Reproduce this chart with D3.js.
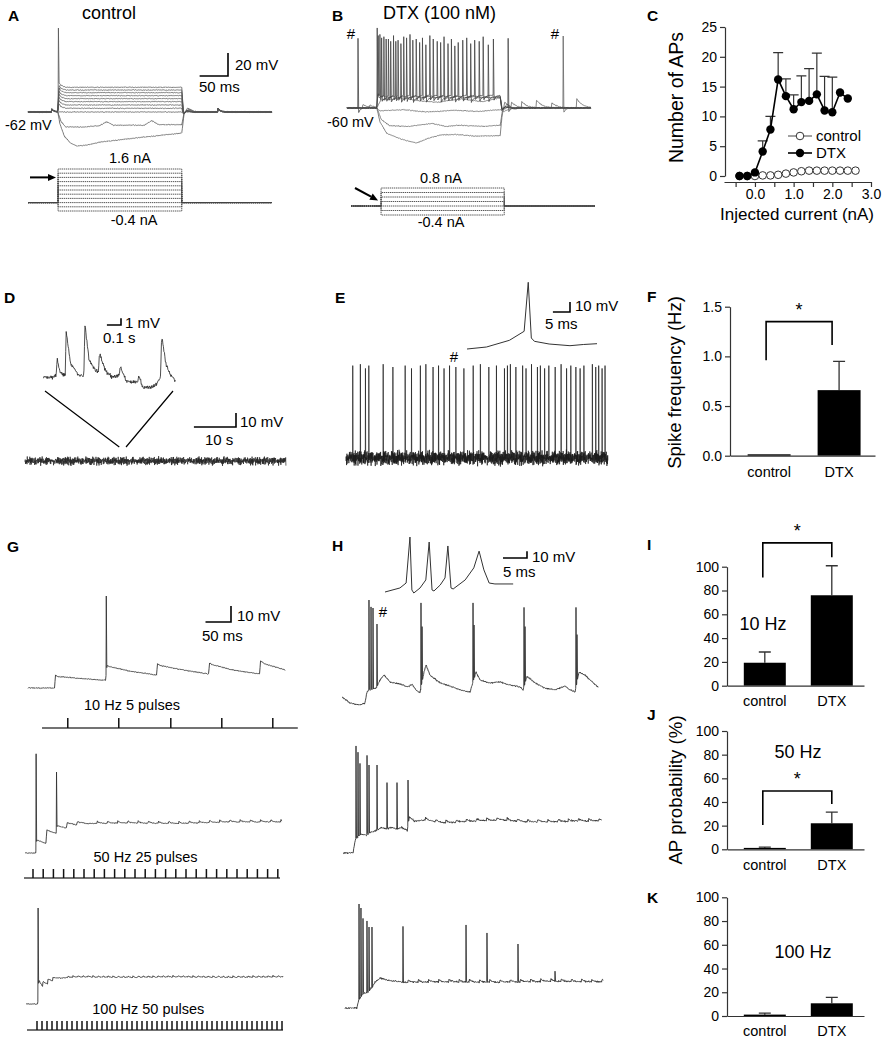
<!DOCTYPE html>
<html>
<head>
<meta charset="utf-8">
<title>DTX excitability figure</title>
<script src="https://cdn.jsdelivr.net/npm/d3@7/dist/d3.min.js"></script>
<style>
  body { margin: 0; background: #fff; }
  svg { display: block; font-family: "Liberation Sans", Arial, Helvetica, sans-serif; }
</style>
</head>
<body>
<svg id="fig" width="892" height="1042"></svg>
<script>
// ---------- data (ms / mV / nA) ----------

// fixed jitter table used as trace texture
const NOISE = [0.31,-0.72,0.55,-0.12,0.88,-0.47,0.05,-0.93,0.64,-0.28,0.41,-0.66,0.97,-0.05,-0.38,0.73,-0.84,0.22,0.59,-0.51,
               0.12,-0.19,0.81,-0.77,0.36,-0.99,0.48,0.02,-0.58,0.69,-0.33,0.91,-0.14,-0.62,0.27,0.76,-0.88,0.17,-0.42,0.53];

// A: control, current steps
const aCurrents = [-0.4, -0.2, 0, 0.2, 0.4, 0.6, 0.8, 1.0, 1.2, 1.4, 1.6];
const aSteady = [-80.3, -73, -62, -58.8, -55.9, -53, -50.4, -47.8, -45.2, -42.9, -40.5];
const aStep = [53, 271];
const aHyper04 = [[0,-62],[52.5,-62],[56,-72],[64,-83],[75,-89],[86,-91.6],[100,-91],[130,-88],[160,-86.3],[200,-84],[240,-82],[271,-80.3],[275,-64],[281,-58.5],[291,-61],[301,-62],[430,-62]];
const aHyper02 = [[0,-62],[52.5,-62],[58,-70],[66,-75],[100,-75],[125,-74],[139,-70.5],[150,-73.5],[205,-73.5],[218,-69.5],[230,-73],[271,-73],[275,-63],[283,-59.5],[293,-62],[430,-62]];
const aOnsetSpike = [53.6, 11];
const aBumps = [[42, 2.5], [335, 3]];

// B: DTX, current steps
const bCurrents = [-0.4, -0.2, 0, 0.2, 0.4, 0.6, 0.8];
const bStep = [53, 270];
const bHyper04 = [[0,-60],[52.5,-60],[58,-72],[70,-82],[95,-87],[123,-90.5],[145,-86],[165,-83.5],[190,-83],[230,-84.5],[270,-84],[273,-68],[278,-55],[285,-58],[295,-61],[305,-60],[430,-60]];
const bHyper02 = [[0,-60],[52.5,-60],[60,-70],[75,-75.5],[110,-76],[140,-74],[150,-73.5],[175,-76],[200,-75],[240,-76],[270,-75],[274,-62],[282,-56.5],[292,-60],[430,-60]];
const bZero = [[0,-60],[52.5,-60],[58,-62.5],[100,-61.5],[140,-63.5],[190,-62],[230,-63],[270,-61.5],[276,-63],[290,-60],[430,-60]];
const bPos02 = [[0,-60],[52.5,-60],[60,-53],[100,-51.5],[130,-54],[160,-55],[200,-52],[240,-54.5],[270,-51],[274,-62],[285,-59],[300,-60],[430,-60]];
const bSpikeLevel = [-51, -50, -49];            // 0.4, 0.6, 0.8 nA
const bSpikes04 = [[19.4,0.6],[61,1],[77,-2],[95,-4],[116,-1],[139,-5],[165,-3],[190,-6],[218,-4]];
const bSpikes06 = [[55,3],[69,0],[86,-2],[105,1],[128,-3],[152,0],[178,-4],[204,-1],[233,-2],[249,-5]];
const bSpikes08 = [[53.2,9.6],[58,4],[65,2],[73,0],[82,3],[90,-1],[100,2],[111,4],[122,0],[133,1],[146,3],[159,-2],[171,2],[184,0],[196,-3],[211,1],[225,-1],[240,2],[258,0],[284,0.6]];
const bSpikes00 = [[381, 2.6]];
const bBumps00 = [[334, 7], [405, 8]];
const bBumps02 = [[28, 3], [290, 4.3], [361, 4.5]];
const bBumpsM02 = [[40, 2.5], [308, 5.5]];

// C: number of APs vs injected current
const cCurrentDtx = [-0.4,-0.2,0,0.2,0.4,0.6,0.8,1.0,1.2,1.4,1.6,1.8,2.0,2.2,2.4];
const cDtxMean    = [0,0,0.6,4.1,7.8,16.2,13.4,11.2,12.4,12.6,13.7,11.0,10.7,14.0,13.0];
const cDtxSem     = [0,0,0,1.8,2.2,4.5,2.9,2.4,4.4,5.4,6.9,5.7,5.9,0,0];
const cCurrentCtl = [-0.4,-0.2,0,0.2,0.4,0.6,0.8,1.0,1.2,1.4,1.6,1.8,2.0,2.2,2.4,2.6];
const cCtlMean    = [0,0,0,0.1,0.1,0.2,0.4,0.6,0.8,0.9,0.9,0.9,0.9,0.9,0.9,0.9];
const cXTicks = [-0.5,0,0.5,1,1.5,2,2.5,3];
const cYTicks = [0,5,10,15,20,25];

// D: control spontaneous activity (s / mV)
const dMain = [[0,0],[62,0]];
const dInset = [[0,0.2],[0.044,0],[0.089,0.3],[0.097,2.9],[0.117,0.9],[0.147,0.4],[0.154,0.6],[0.161,6.9],[0.191,2.2],[0.25,0.45],[0.286,0.3],
                [0.294,7.9],[0.323,2.7],[0.367,1.2],[0.39,1.0],[0.397,3.7],[0.44,1.0],[0.485,0.2],[0.537,0.4],[0.544,1.7],[0.587,-0.5],
                [0.668,-0.6],[0.676,0.3],[0.705,-1.5],[0.79,-1.2],[0.83,0],[0.838,6.4],[0.867,2.2],[0.896,0.7],[0.94,-0.6]];

// E: DTX spontaneous firing (s / mV)
const eSpikeT = [1.6,3.4,4.6,5.4,8.8,11.1,14.0,15.5,17.6,18.9,20.6,21.9,23.2,24.5,26.0,27.9,30.1,31.8,33.8,35.6,37.5,38.2,38.9,40.2,41.8,42.6,
                 43.9,45.3,46.0,47.0,48.0,49.5,50.9,52.2,53.2,54.4,55.4,56.3,58.3,59.1,59.8,60.6,61.3];
const eSpikePk = [66,67,64,66,67,65,66,64,66,67,65,66,64,66,65,64,66,67,65,66,64,66,67,65,66,64,67,65,66,64,66,65,67,64,66,65,64,66,67,65,66,64,66];
const eInset = [[0,0],[5.7,2],[12.4,8.7],[16.7,17.7],[17.9,66.7],[18.8,11],[19.7,7.7],[24,5],[30.1,3.3],[34,4.5],[38,5.3]];

// F: spontaneous spike frequency (Hz)
const barCats = ['control', 'DTX'];
const fMean = [0, 0.66];
const fSem  = [0, 0.29];
// I, J, K: AP probability (%) at 10, 50, 100 Hz
const iMean = [19.3, 76], iSem = [9, 24.8];
const jMean = [1, 22],    jSem = [0.8, 9.5];
const kMean = [1, 10.7],  kSem = [1.5, 5];

// G: control synaptic trains (ms / mV relative to rest)
const g1Pts = [[0,0],[52.5,0],[53.5,8.2],[58,7.2],[100,6],[152,4.8],[155,14],[160,13.4],[200,10.5],[252.5,8.1],[253.5,15.2],[260,14],[300,11.5],
               [354.5,8.7],[355.5,15.8],[362,14.5],[405,11],[454.5,8.8],[455.5,17],[465,15],[504,11.3]];
const g1Spikes = [[153.5, 57.5]];
const g1Stim = [78, 178, 280, 380, 480];
const g2Pts = [[0,0],[21,0],[23,8.1],[41,6],[41.6,6],[42.3,14.4],[61,12.3],[63,17],[81,15.6],[81.6,15.6],[82.3,19],[101,17.5],[101.6,17.5],
               [102.3,19.5],[121,18.4],[200,18.8],[300,18.4],[400,19.4],[504,19.4]];
const g2Spikes = [[21.8, 62], [61.8, 50.6]];
const g3Pts = [[0,0],[23.5,0],[25.5,15],[33,11],[34,14],[43,12.5],[44,15.5],[53,14.5],[54,16.5],[70,16.2],[100,16.9],[200,16.6],[300,16.9],[400,16.6],[514,16.9]];
const g3Spikes = [[24.2, 60]];

// H: DTX synaptic trains
const h1Pts = [[0,0],[15.7,-3.8],[35.3,-5],[45.1,-3.8],[49,3.1],[52,4],[60,5],[68,6],[74.5,10.6],[82.4,13.75],[94.1,9.4],[113.7,8.1],[129.4,6.25],
               [137.3,8.1],[145.1,4.4],[152.9,2.5],[160.8,15.6],[164.7,20],[172.5,13.75],[192.2,8.75],[211.8,6.9],[231.4,4.4],[251,3.1],
               [262.7,15.6],[270.6,10.6],[290.2,8.75],[309.8,9.4],[329.4,7.5],[349,6.25],[354.9,4.4],[362.7,13],[378.4,8.75],[398,5.6],
               [417.6,4.4],[437.3,6.9],[447.1,4.4],[456.9,3.1],[464.7,15.6],[476.5,13.75],[486.3,10.6],[502,6.25]];
const h1Spikes = [[52.9,60.6],[56.9,56.3],[60.8,55.6],[68.6,45.6],[154.9,58.8],[157,44],[256.9,58.8],[258.9,45],[356.9,56],[358.9,44],[458.8,56],[460.8,39]];
const h2Pts = [[0,0],[19.6,0],[24,8],[28,10],[36,12],[45,11],[55,13],[65,14],[75,16],[85,15],[95,16],[105,15],[115,16],[126,14],[130,22.5],
               [140,20],[160,20.6],[200,18.75],[260,20],[311,20.6],[360,19.4],[410,19.4],[460,20],[507,20]];
const h2Spikes = [[25.5,66.9],[29.4,63],[33.3,56],[47.1,61],[51,55],[66.7,55],[86.3,44],[105.9,44],[127.5,45.6]];
const h3Pts = [[0,0],[23.5,0],[27,5],[35,9],[45,10],[53,13],[59,16],[69,18.75],[89,17],[120,16],[200,16.3],[300,16],[400,16.6],[506,16.25]];
const h3Spikes = [[27.5,65],[31.3,62.5],[35.3,56],[43.1,54.4],[47.1,50.6],[52.9,50.6],[113.7,51],[237.3,51.9],[278.4,46.9],[339.2,40],[411.8,23]];
const hInset = [[0,0],[3.1,6],[4.4,13.4],[5.2,82],[5.6,3],[6.0,-1.5],[7.3,6],[8.5,18],[9.2,74.6],[9.8,3],[10.2,1.5],[11.5,10.4],[12.5,21],
                [13.1,68.7],[13.75,6],[14.2,4.5],[16.7,18],[18.5,36],[19.6,61],[20.6,33],[21.7,13.4],[22.9,12],[26.7,12]];

// ---------- helpers ----------
const svg = d3.select('#fig');
const FONT = '"Liberation Sans", Arial, sans-serif';
const line = d3.line();

function txt(x, y, s, size, o = {}) {
  return svg.append('text').attr('x', x).attr('y', y).attr('font-size', size)
    .attr('text-anchor', o.anchor || 'start').attr('font-weight', o.bold ? 'bold' : null)
    .attr('fill', '#000').text(s);
}
function vtxt(x, y, s, size) {
  svg.append('text').attr('transform', `translate(${x},${y}) rotate(-90)`)
    .attr('text-anchor', 'middle').attr('font-size', size).attr('fill', '#000').text(s);
}

// sample a trace: slow keypoints + synaptic bumps + spikes + texture
function buildTrace(s) {
  const slow = d3.scaleLinear().domain(s.pts.map(p => p[0])).range(s.pts.map(p => p[1])).clamp(true);
  const spikes = (s.spikes || []).slice().sort((a, b) => a[0] - b[0]);
  const bumps = s.bumps || [];
  const rise = s.rise ?? 0.5, fall = s.fall ?? 1, ahp = s.ahp || 0, ahpTau = s.ahpTau || 3;
  const seed = s.seed || 0, amp = s.noise || 0;
  const jitter = i => amp * (0.65 * NOISE[(i + seed) % NOISE.length] + 0.35 * NOISE[(i * 7 + seed * 3) % 37]);
  const val = (t, i) => {
    let v = slow(t) + jitter(i);
    for (const [bt, ba] of bumps) if (t >= bt) v += ba * Math.exp(-(t - bt) / s.tau);
    if (ahp) for (const [st] of spikes) if (t >= st + fall) v -= ahp * Math.exp(-(t - st - fall) / ahpTau);
    return v;
  };
  const out = [];
  let t = s.t0, i = 0, k = 0;
  while (t <= s.t1 + 1e-9) {
    if (k < spikes.length && t >= spikes[k][0] - rise) {
      const [st, pk] = spikes[k++];
      out.push([st - rise, val(st - rise, i)]);
      out.push([st, pk]);
      out.push([st + fall, val(st + fall, i + 1)]);
      while (t <= st + fall) { t += s.dt; i++; }
      continue;
    }
    out.push([t, val(t, i)]);
    t += s.dt; i++;
  }
  return out;
}

function drawTrace(pts, xs, ys, color, width, dash) {
  svg.append('path').attr('d', line(pts.map(p => [xs(p[0]), ys(p[1])])))
    .attr('fill', 'none').attr('stroke', color).attr('stroke-width', width)
    .attr('stroke-linejoin', 'round').attr('stroke-dasharray', dash || null);
}

function scaleBar(cx, cy, xs, tLen, ys, vLen) {
  const w = Math.abs(xs(tLen) - xs(0)), h = Math.abs(ys(vLen) - ys(0));
  svg.append('path').attr('d', `M${cx - w},${cy}H${cx}V${cy - h}`)
    .attr('fill', 'none').attr('stroke', '#000').attr('stroke-width', 1.6);
}

function arrow(x1, y1, x2, y2) {
  const a = Math.atan2(y2 - y1, x2 - x1), L = 8, W = 3.5;
  const bx = x2 - L * Math.cos(a), by = y2 - L * Math.sin(a);
  svg.append('line').attr('x1', x1).attr('y1', y1).attr('x2', bx).attr('y2', by)
    .attr('stroke', '#000').attr('stroke-width', 2);
  svg.append('path').attr('fill', '#000')
    .attr('d', `M${x2},${y2}L${bx - W * Math.sin(a)},${by + W * Math.cos(a)}L${bx + W * Math.sin(a)},${by - W * Math.cos(a)}Z`);
}

function styleAxis(g, size) {
  g.attr('font-family', FONT);
  g.selectAll('path,line').attr('stroke', '#333').attr('stroke-width', 1.2);
  g.selectAll('text').attr('font-size', size).attr('fill', '#000');
}

function stepPts(base, s, on, off) {
  return [[0,base],[on-0.5,base],[on+1.5,s+4],[on+5,s+1.5],[on+14,s],[off,s],[off+3,base-1.5],[off+9,base+1],[off+22,base],[430,base]];
}

// ---------- panel letters ----------
[['A',8,20.5],['B',332,20.5],['C',647,20.5],['D',4,303],['E',335,303],['F',647,302],
 ['G',7,551.5],['H',332,551],['I',647,550],['J',647,720],['K',647,903]]
  .forEach(([l, x, y]) => txt(x, y, l, 15.5, { bold: true }));

// ---------- A ----------
const xA = d3.scaleLinear().domain([0, 430]).range([28, 272]);
const yA = d3.scaleLinear().domain([-62, -42]).range([112, 89]);
const yAi = d3.scaleLinear().domain([-0.4, 1.6]).range([211, 169]);
aCurrents.forEach((I, j) => {
  let pts;
  if (I === -0.4) pts = aHyper04;
  else if (I === -0.2) pts = aHyper02;
  else if (I === 0) pts = [[0,-62],[430,-62]];
  else pts = stepPts(-62, aSteady[j], aStep[0], aStep[1]);
  const tr = buildTrace({ t0: 0, t1: 430, dt: 1, pts, spikes: I === 1.6 ? [aOnsetSpike] : [],
    bumps: aBumps, tau: 4, noise: 0.45, seed: j * 5, rise: 0.5, fall: 1.2 });
  drawTrace(tr, xA, yA, '#555', 0.8);
});
aCurrents.forEach(I => drawTrace([[0,0],[aStep[0],0],[aStep[0],I],[aStep[1],I],[aStep[1],0],[430,0]], xA, yAi, '#444', 0.9, '1.4 0.7'));
txt(82, 19, 'control', 18);
scaleBar(228, 76, xA, 50, yA, 20);
txt(235, 70, '20 mV', 15);
txt(199, 92, '50 ms', 15);
txt(5, 130, '-62 mV', 14.5);
txt(130, 163, '1.6 nA', 14.5, { anchor: 'middle' });
txt(134, 225, '-0.4 nA', 14.5, { anchor: 'middle' });
arrow(30, yAi(1.2), 56, yAi(1.2));

// ---------- B ----------
const xB = d3.scaleLinear().domain([0, 430]).range([347, 591]);
const yB = d3.scaleLinear().domain([-60, -40]).range([108, 85]);
const xBi = d3.scaleLinear().domain([0, 430]).range([351, 595]);
const yBi = d3.scaleLinear().domain([-0.4, 0.8]).range([215, 188]);
const bSpec = [
  { pts: bHyper04, spikes: [], bumps: [] },
  { pts: bHyper02, spikes: [], bumps: bBumpsM02 },
  { pts: bZero, spikes: bSpikes00, bumps: bBumps00 },
  { pts: bPos02, spikes: [], bumps: bBumps02 },
  { pts: stepPts(-60, bSpikeLevel[0], bStep[0], bStep[1]), spikes: bSpikes04, bumps: [] },
  { pts: stepPts(-60, bSpikeLevel[1], bStep[0], bStep[1]), spikes: bSpikes06, bumps: [] },
  { pts: stepPts(-60, bSpikeLevel[2], bStep[0], bStep[1]), spikes: bSpikes08, bumps: [] }
];
bSpec.forEach((s, j) => {
  const tr = buildTrace({ t0: 0, t1: 430, dt: 1, pts: s.pts, spikes: s.spikes, bumps: s.bumps, tau: 10,
    noise: 0.5, seed: j * 11, rise: 0.5, fall: 1.2, ahp: 4, ahpTau: 3 });
  drawTrace(tr, xB, yB, j >= 4 ? '#444' : '#666', 0.8);
});
bCurrents.forEach(I => drawTrace([[0,0],[bStep[0],0],[bStep[0],I],[bStep[1],I],[bStep[1],0],[430,0]], xBi, yBi, '#444', 0.9, '1.4 0.7'));
txt(383, 18.5, 'DTX (100 nM)', 18);
txt(351, 39, '#', 15, { anchor: 'middle' });
txt(555, 39, '#', 15, { anchor: 'middle' });
txt(327, 127, '-60 mV', 14.5);
txt(441, 182.5, '0.8 nA', 14.5, { anchor: 'middle' });
txt(441, 227, '-0.4 nA', 14.5, { anchor: 'middle' });
arrow(355, 188, xBi(bStep[0]) - 3, yBi(0.2) - 1);

// ---------- C ----------
const xC = d3.scaleLinear().domain([-0.8, 3.0]).range([724, 871]);
const yC = d3.scaleLinear().domain([0, 25]).range([176, 27]);
styleAxis(svg.append('g').attr('transform', 'translate(725,0)')
  .call(d3.axisLeft(yC).tickValues(cYTicks).tickSize(5).tickPadding(3).tickSizeOuter(0)), 14);
styleAxis(svg.append('g').attr('transform', 'translate(0,182)')
  .call(d3.axisBottom(xC).tickValues(cXTicks).tickSize(5).tickPadding(2).tickSizeOuter(0)
    .tickFormat(d => Number.isInteger(d) ? d3.format('.1f')(d) : '')), 14);
// error bars (upper)
cCurrentDtx.forEach((c, i) => {
  if (!cDtxSem[i]) return;
  const x = xC(c), y1 = yC(cDtxMean[i]), y2 = yC(cDtxMean[i] + cDtxSem[i]);
  svg.append('path').attr('d', `M${x},${y1}V${y2}M${x - 5},${y2}H${x + 5}`)
    .attr('stroke', '#333').attr('stroke-width', 1.2).attr('fill', 'none');
});
drawTrace(cCurrentCtl.map((c, i) => [c, cCtlMean[i]]), xC, yC, '#444', 1);
svg.selectAll('.ctl').data(cCurrentCtl).join('circle').attr('class', 'ctl')
  .attr('cx', d => xC(d)).attr('cy', (d, i) => yC(cCtlMean[i])).attr('r', 3.8)
  .attr('fill', '#fff').attr('stroke', '#333').attr('stroke-width', 1);
drawTrace(cCurrentDtx.map((c, i) => [c, cDtxMean[i]]), xC, yC, '#000', 1.6);
svg.selectAll('.dtx').data(cCurrentDtx).join('circle').attr('class', 'dtx')
  .attr('cx', d => xC(d)).attr('cy', (d, i) => yC(cDtxMean[i])).attr('r', 4.2).attr('fill', '#000');
// legend
svg.append('line').attr('x1', 788).attr('x2', 812).attr('y1', 136).attr('y2', 136).attr('stroke', '#444');
svg.append('circle').attr('cx', 800).attr('cy', 136).attr('r', 3.8).attr('fill', '#fff').attr('stroke', '#333');
txt(816, 141, 'control', 15);
svg.append('line').attr('x1', 788).attr('x2', 812).attr('y1', 153).attr('y2', 153).attr('stroke', '#000').attr('stroke-width', 1.6);
svg.append('circle').attr('cx', 800).attr('cy', 153).attr('r', 4.2).attr('fill', '#000');
txt(816, 158, 'DTX', 15);
vtxt(682.5, 97.5, 'Number of APs', 19.5);
txt(797, 220, 'Injected current (nA)', 17, { anchor: 'middle' });

// ---------- D ----------
const xD = d3.scaleLinear().domain([0, 62]).range([25, 286]);
const yD = d3.scaleLinear().domain([0, 10]).range([461, 447]);
drawTrace(buildTrace({ t0: 0, t1: 62, dt: 0.06, pts: dMain, noise: 3.6, seed: 3 }), xD, yD, '#222', 0.7);
const xDi = d3.scaleLinear().domain([0, 1]).range([43.5, 184.5]);
const yDi = d3.scaleLinear().domain([0, 1]).range([378, 371.3]);
drawTrace(buildTrace({ t0: 0, t1: 0.94, dt: 0.0035, pts: dInset, noise: 0.35, seed: 7 }), xDi, yDi, '#222', 0.8);
svg.append('path').attr('d', `M45,391L${xD(22.4)},447M173,391L${xD(24)},447`)
  .attr('stroke', '#000').attr('stroke-width', 1.2).attr('fill', 'none');
scaleBar(121, 325, xDi, 0.1, yDi, 1);
txt(125, 327.5, '1 mV', 15);
txt(103, 343, '0.1 s', 15);
scaleBar(236, 427, xD, 10, yD, 10);
txt(240, 427, '10 mV', 15);
txt(205, 445, '10 s', 15);

// ---------- E ----------
const xE = d3.scaleLinear().domain([0, 62]).range([346, 608]);
const yE = d3.scaleLinear().domain([0, 10]).range([458, 444]);
drawTrace(buildTrace({ t0: 0, t1: 62, dt: 0.045, pts: dMain, noise: 6.2, seed: 13,
  spikes: eSpikeT.map((t, i) => [t, eSpikePk[i]]), rise: 0.03, fall: 0.06 }), xE, yE, '#1a1a1a', 0.7);
const xEi = d3.scaleLinear().domain([0, 38]).range([467, 597]);
const yEi = d3.scaleLinear().domain([0, 10]).range([349, 339]);
drawTrace(eInset, xEi, yEi, '#333', 1);
txt(454, 362, '#', 15, { anchor: 'middle' });
scaleBar(570, 312, xEi, 5, yEi, 10);
txt(575, 311, '10 mV', 15);
txt(545, 329, '5 ms', 15);

// ---------- bar panels F, I, J, K ----------
function barPanel(p) {
  const x = d3.scaleBand().domain(barCats).range([p.x0, p.x1]).paddingInner(p.pi).paddingOuter(p.po).align(p.align);
  const y = d3.scaleLinear().domain([0, p.max]).range([p.y0, p.yTop]);
  const g = svg.append('g');
  const cx = c => x(c) + x.bandwidth() / 2;
  // error bars
  barCats.forEach((c, i) => {
    if (!p.sem[i]) return;
    const y1 = y(p.mean[i]), y2 = y(p.mean[i] + p.sem[i]);
    g.append('path').attr('d', `M${cx(c)},${y1}V${y2}M${cx(c) - 6},${y2}H${cx(c) + 6}`)
      .attr('stroke', '#333').attr('stroke-width', 1.3).attr('fill', 'none');
  });
  g.selectAll('rect').data(p.mean).join('rect')
    .attr('x', (d, i) => x(barCats[i])).attr('width', x.bandwidth())
    .attr('y', d => Math.min(y(d), p.y0 - 1.4)).attr('height', d => Math.max(p.y0 - y(d), 1.4)).attr('fill', '#000');
  styleAxis(g.append('g').attr('transform', `translate(${p.x0},0)`)
    .call(d3.axisLeft(y).tickValues(p.ticks).tickFormat(p.fmt).tickSize(5).tickPadding(3).tickSizeOuter(0)), 14);
  styleAxis(g.append('g').attr('transform', `translate(0,${p.y0})`)
    .call(d3.axisBottom(x).tickSize(0).tickPadding(p.pad).tickSizeOuter(0)), 14.5);
  if (p.sig) {
    const [lv, rv, top] = p.sig;
    const lx = cx(barCats[0]) + p.legs[0], rx = cx(barCats[1]) + p.legs[1];
    g.append('path').attr('d', `M${lx},${y(lv)}V${y(top)}H${rx}V${y(rv)}`)
      .attr('stroke', '#000').attr('stroke-width', 1.6).attr('fill', 'none');
    txt((lx + rx) / 2, y(top) - 6, '*', 18, { anchor: 'middle' });
  }
  if (p.label) txt(p.label[0], p.label[1], p.label[2], 18, { anchor: 'middle' });
}
const pct = [0, 20, 40, 60, 80, 100];
barPanel({ x0: 730, x1: 875, y0: 455.7, yTop: 306.7, max: 1.5, pi: 0.386, po: 0.229, align: 0.55,
  mean: fMean, sem: fSem, ticks: [0, 0.5, 1, 1.5], fmt: d3.format('.1f'), pad: 11,
  sig: [0.96, 1.115, 1.35], legs: [-3, -7] });
barPanel({ x0: 727, x1: 864, y0: 685.7, yTop: 566.7, max: 100, pi: 0.373, po: 0.209, align: 0.6,
  mean: iMean, sem: iSem, ticks: pct, fmt: d3.format('d'), pad: 10,
  sig: [91, 108, 120], legs: [-2, 0], label: [763, 630, '10 Hz'] });
barPanel({ x0: 727, x1: 864, y0: 849.3, yTop: 731, max: 100, pi: 0.373, po: 0.209, align: 0.6,
  mean: jMean, sem: jSem, ticks: pct, fmt: d3.format('d'), pad: 10,
  sig: [20.5, 38.3, 49.3], legs: [-2, 0], label: [798, 758, '50 Hz'] });
barPanel({ x0: 727, x1: 864, y0: 1016, yTop: 897.3, max: 100, pi: 0.373, po: 0.209, align: 0.6,
  mean: kMean, sem: kSem, ticks: pct, fmt: d3.format('d'), pad: 10, label: [803, 958, '100 Hz'] });
vtxt(681, 382.5, 'Spike frequency (Hz)', 18.5);
vtxt(682, 790, 'AP probability (%)', 18.7);

// ---------- G ----------
const xG1 = d3.scaleLinear().domain([0, 500]).range([28, 283]);
const yG1 = d3.scaleLinear().domain([0, 10]).range([688, 672]);
const xG2 = d3.scaleLinear().domain([0, 500]).range([25, 280]);
const yG2 = d3.scaleLinear().domain([0, 10]).range([853, 837]);
const xG3 = d3.scaleLinear().domain([0, 500]).range([26, 276]);
const yG3 = d3.scaleLinear().domain([0, 10]).range([1004, 988]);
drawTrace(buildTrace({ t0: 0, t1: 504, dt: 1, pts: g1Pts, spikes: g1Spikes, noise: 0.35, seed: 1 }), xG1, yG1, '#333', 0.9);
drawTrace(buildTrace({ t0: 0, t1: 504, dt: 1, pts: g2Pts, spikes: g2Spikes, noise: 0.35, seed: 9,
  bumps: d3.range(6, 25).map(k => [21.6 + 20 * k, 1.4]), tau: 4 }), xG2, yG2, '#333', 0.9);
drawTrace(buildTrace({ t0: 0, t1: 514, dt: 1, pts: g3Pts, spikes: g3Spikes, noise: 0.3, seed: 17,
  bumps: d3.range(6, 50).map(k => [24 + 10 * k, 0.8]), tau: 2.5 }), xG3, yG3, '#333', 0.9);

function stimLine(xs, y, span, ticks, h) {
  svg.append('line').attr('x1', xs(span[0])).attr('x2', xs(span[1])).attr('y1', y).attr('y2', y)
    .attr('stroke', '#444').attr('stroke-width', 1.3);
  svg.append('g').selectAll('line').data(ticks).join('line')
    .attr('x1', d => xs(d)).attr('x2', d => xs(d)).attr('y1', y).attr('y2', y - h)
    .attr('stroke', '#111').attr('stroke-width', 1.5);
}
stimLine(xG1, 728, [27.5, 529], g1Stim, 10);
stimLine(xG2, 878, [-2, 500], d3.range(25).map(k => 15.7 + 20 * k), 9);
stimLine(xG3, 1030, [2, 514], d3.range(50).map(k => 22 + 10 * k), 9);
txt(132, 710, '10 Hz 5 pulses', 14.5, { anchor: 'middle' });
txt(145.5, 862, '50 Hz 25 pulses', 14.5, { anchor: 'middle' });
txt(148.3, 1014, '100 Hz 50 pulses', 14.5, { anchor: 'middle' });
scaleBar(231, 622, xG1, 50, yG1, 10);
txt(237, 621, '10 mV', 15);
txt(202, 641, '50 ms', 15);

// ---------- H ----------
const xH1 = d3.scaleLinear().domain([0, 500]).range([342, 597]);
const yH1 = d3.scaleLinear().domain([0, 10]).range([697, 681]);
const xH2 = d3.scaleLinear().domain([0, 500]).range([343, 598]);
const yH2 = d3.scaleLinear().domain([0, 10]).range([853, 837]);
const xH3 = d3.scaleLinear().domain([0, 500]).range([345, 600]);
const yH3 = d3.scaleLinear().domain([0, 10]).range([1008, 992]);
drawTrace(buildTrace({ t0: 0, t1: 502, dt: 1, pts: h1Pts, spikes: h1Spikes, noise: 0.6, seed: 21 }), xH1, yH1, '#333', 0.9);
drawTrace(buildTrace({ t0: 0, t1: 507, dt: 1, pts: h2Pts, spikes: h2Spikes, noise: 0.7, seed: 27,
  bumps: d3.range(7, 25).map(k => [21.6 + 20 * k, 1.5]), tau: 5 }), xH2, yH2, '#333', 0.9);
drawTrace(buildTrace({ t0: 0, t1: 506, dt: 1, pts: h3Pts, spikes: h3Spikes, noise: 0.7, seed: 33,
  bumps: d3.range(5, 25).map(k => [24 + 20 * k, 1.5]), tau: 5 }), xH3, yH3, '#333', 0.9);
const xHi = d3.scaleLinear().domain([0, 10]).range([385, 433]);
const yHi = d3.scaleLinear().domain([0, 10]).range([592, 585.3]);
drawTrace(hInset, xHi, yHi, '#333', 1);
txt(383, 617, '#', 15, { anchor: 'middle' });
scaleBar(527, 558, xHi, 5, yHi, 10);
txt(532, 561.5, '10 mV', 15);
txt(503, 576.5, '5 ms', 15);
</script>
</body>
</html>
